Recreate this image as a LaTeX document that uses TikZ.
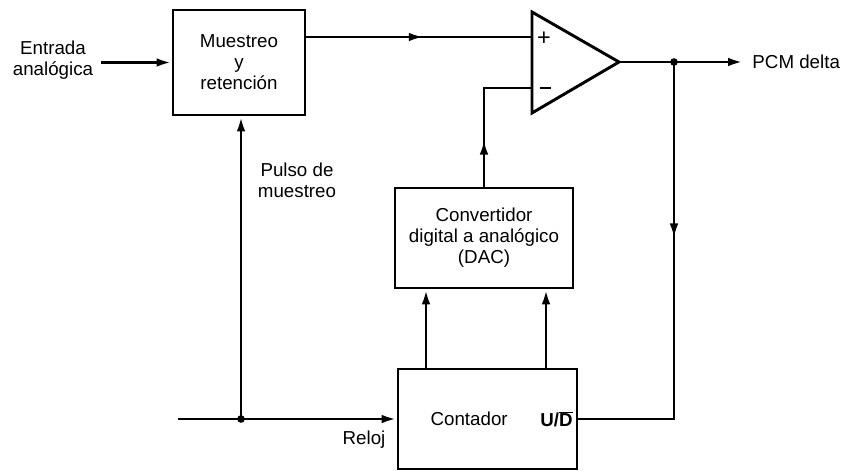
\documentclass[tikz,border=0pt]{standalone}
\usepackage{fontspec}
\setmainfont{Liberation Sans}
\usetikzlibrary{positioning, calc, arrows.meta, decorations.markings}

\tikzset{
  block/.style={draw, line width=2.5pt, align=center},
  wire/.style={line width=2.5pt},
  sig/.style={-{Latex[length=4.5mm,width=2.6mm]}},
  midarrow/.style={postaction={decorate}, decoration={markings,
      mark=at position #1 with {\arrow{Latex[length=4.5mm,width=2.6mm]}}}},
  junction/.style={circle, fill, inner sep=0pt, minimum size=2.3mm},
}

\begin{document}
\begin{tikzpicture}[font=\fontsize{16}{18}\selectfont]
\useasboundingbox (0,0) rectangle (25.29,14.1);

% Bloques
\node[block, minimum width=3.96cm, minimum height=3.15cm] (muestreo) at (7.17,12.225) {Muestreo\\y\\retención};
\node[block, minimum width=5.34cm, minimum height=3cm] (dac) at (14.52,6.96) {Convertidor\\digital a analógico\\(DAC)};
\node[block, minimum width=5.37cm, minimum height=3cm] (contador) at (14.625,1.53) {};
\node (contlabel) at ([xshift=-0.55cm]contador.center) {Contador};
\node (udlabel) [left=0.05cm of contador.east] {\textbf{U/}$\overline{\mbox{\textbf{D}}}$};

% Comparador
\coordinate (ampsup) at (15.96,13.74);
\coordinate (ampinf) at (15.96,10.71);
\coordinate (ampout) at (18.57,12.24);
\coordinate (mas) at (15.96,12.99);
\coordinate (menos) at (15.96,11.46);
\draw[wire, line join=miter] (ampsup) -- (ampout) -- (ampinf) -- cycle;
\node[font=\fontsize{20}{20}\selectfont] (maslabel) at (16.32,12.93) {+};
\node (menoslabel) at (16.35,11.46) {\rule{0.33cm}{0.08cm}};

% Entrada
\node[align=center] (entrada) at (1.59,12.3) {Entrada\\analógica};
\draw[wire, sig] ([xshift=0.1cm]entrada.east |- muestreo.west) -- (muestreo.west);
\draw[wire, midarrow=0.52] (muestreo.east |- mas) -- (mas);

% Salida
\coordinate (salida) at (22.29,12.24);
\node[junction] (nodo) at (20.22,12.24) {};
\draw[wire, sig] (ampout) -- (salida);
\node[anchor=west] (pcm) at (22.45,12.24) {PCM delta};
\draw[wire, midarrow=0.39] (nodo.center) |- (contador.east);

% Realimentacion
\draw[wire, midarrow=0.32] (dac.north) |- (menos);
\foreach \bx [count=\i] in {12.78,16.38} {
  \coordinate (bit\i) at (\bx,0);
  \draw[wire, sig] (bit\i |- contador.north) -- (bit\i |- dac.south);
}

% Reloj
\coordinate (clk) at (5.34,1.53);
\draw[wire, sig] (clk) -- (contador.west);
\node[junction] (muestra) at (7.23,1.53) {};
\node (reloj) at (10.92,0.9) {Reloj};
\draw[wire, sig] (muestra.center) -- (muestra.center |- muestreo.south);
\node[align=center] (pulso) at (8.91,8.7) {Pulso de\\muestreo};

\end{tikzpicture}
\end{document}
